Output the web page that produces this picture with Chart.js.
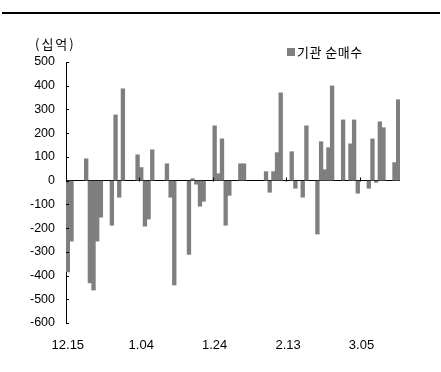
<!DOCTYPE html>
<html>
<head>
<meta charset="utf-8">
<script src="https://cdn.jsdelivr.net/npm/chart.js@4.4.1/dist/chart.umd.min.js"></script>
<style>
  html, body { margin: 0; padding: 0; background: #fff; }
  canvas { display: block; }
</style>
</head>
<body>
<canvas id="flowChart" width="441" height="372"></canvas>
<script>
// 기관 순매수 일별 추이 (십억원), 2021.12.15 ~ 2022.03.15 달력 기준, 휴장일은 null
const startDate = new Date(2021, 11, 15);
const dayCount = 91;
const tickLabels = ['12.15', '1.04', '1.24', '2.13', '3.05'];
const yTicks = { min: -600, max: 500, step: 100 };
const seriesName = '기관 순매수';
const unitLabel = '(십억)';

const netBuy = [
  -385, -255, null, null, null,   92, -431, -461, -255, -154,
  null, null, -188,  277,  -70,  387, null, null, null,  109,
    55, -192, -162,  130, null, null, null,   71,  -70, -440,
  null, null, null, -311,    8,  -15, -108,  -87, null, null,
   231,   29,  176, -188,  -62, null, null,   71,   71, null,
  null, null, null, null,   38,  -49,   38,  118,  370, null,
  null,  122,  -32, null,  -70,  231, null, null, -225,  164,
    46,  139,  399, null, null,  256, null,  155,  256,  -53,
  null, null,  -32,  176,   -7,  248,  223, null, null,   76,
   341
];

// 날짜 라벨 (M.DD)
const days = [];
for (let i = 0; i < dayCount; i++) {
  const d = new Date(startDate);
  d.setDate(d.getDate() + i);
  days.push((d.getMonth() + 1) + '.' + String(d.getDate()).padStart(2, '0'));
}

const barColor = '#7f7f7f';
const numFont = "'Liberation Sans', Arial, sans-serif";
const krFont = "'Noto Sans CJK KR', 'Noto Sans', sans-serif";

const chartDecor = {
  id: 'chartDecor',
  beforeDraw(chart) {
    const { ctx } = chart;
    ctx.save();
    ctx.fillStyle = '#000';
    ctx.fillRect(2, 12, 438, 2);
    ctx.restore();
  },
  afterDraw(chart) {
    const { ctx, chartArea, scales: { x, y } } = chart;
    ctx.save();
    ctx.strokeStyle = '#000';
    ctx.lineWidth = 1;
    ctx.beginPath();
    // y축 안쪽 눈금
    y.ticks.forEach(t => {
      const py = Math.round(y.getPixelForValue(t.value)) + 0.5;
      ctx.moveTo(chartArea.left, py);
      ctx.lineTo(chartArea.left + 3, py);
    });
    // 0선 위 날짜 눈금
    const zero = Math.round(y.getPixelForValue(0)) + 0.5;
    const step = (chartArea.right - chartArea.left) / dayCount;
    days.forEach((d, i) => {
      if (i > 0 && tickLabels.includes(d)) {
        const px = Math.round(x.getPixelForValue(i) - step / 2) + 0.5;
        ctx.moveTo(px, zero);
        ctx.lineTo(px, zero - 4);
      }
    });
    ctx.stroke();

    // 단위
    ctx.fillStyle = '#000';
    ctx.font = '13px ' + krFont;
    ctx.textBaseline = 'middle';
    ctx.textAlign = 'left';
    ctx.letterSpacing = '2px';
    ctx.fillText(unitLabel, 35, 44);
    ctx.letterSpacing = '0.5px';

    // 범례
    ctx.fillStyle = barColor;
    ctx.fillRect(287, 48, 8, 8);
    ctx.fillStyle = '#000';
    ctx.fillText(seriesName, 297, 52);
    ctx.restore();
  }
};

new Chart(document.getElementById('flowChart'), {
  type: 'bar',
  data: {
    labels: days,
    datasets: [{
      label: seriesName,
      data: netBuy,
      backgroundColor: barColor,
      borderWidth: 0,
      categoryPercentage: 1.0,
      barPercentage: 1.0
    }]
  },
  options: {
    responsive: false,
    animation: false,
    devicePixelRatio: 1,
    layout: {
      padding: { top: 62, right: 41, left: 0, bottom: 0 }
    },
    scales: {
      x: {
        grid: { display: false, drawTicks: false },
        border: { display: false },
        ticks: {
          autoSkip: false,
          maxRotation: 0,
          padding: 15,
          color: '#000',
          font: { family: numFont, size: 13 },
          callback: function (value, index) {
            const d = days[index];
            return tickLabels.includes(d) ? d : '';
          }
        },
        afterFit: scale => { scale.height = 49; }
      },
      y: {
        min: yTicks.min,
        max: yTicks.max,
        grid: {
          drawTicks: false,
          color: ctx => (ctx.tick && ctx.tick.value === 0 ? '#000' : 'rgba(0,0,0,0)')
        },
        border: { display: true, color: '#000', width: 1 },
        ticks: {
          stepSize: yTicks.step,
          padding: 11,
          color: '#000',
          font: { family: numFont, size: 12.5 }
        },
        afterFit: scale => { scale.width = 66; }
      }
    },
    plugins: {
      legend: { display: false },
      tooltip: { enabled: false }
    }
  },
  plugins: [chartDecor]
});
</script>
</body>
</html>
